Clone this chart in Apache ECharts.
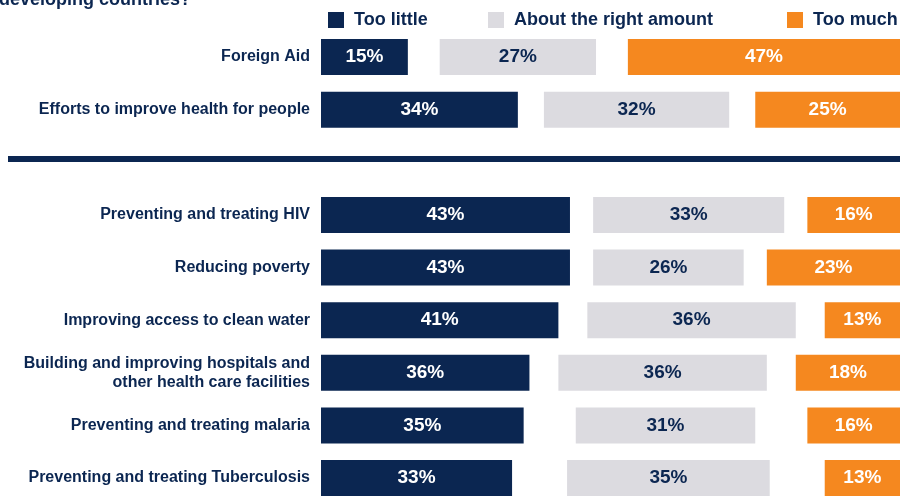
<!DOCTYPE html>
<html>
<head>
<meta charset="utf-8">
<script src="https://cdn.jsdelivr.net/npm/echarts@6/dist/echarts.min.js"></script>
<style>
html,body{margin:0;padding:0;background:#fff;}
#chart{width:900px;height:496px;}
</style>
</head>
<body>
<div id="chart"></div>
<script>
const titleText = 'developing countries?';
const categories = [
  'Foreign Aid',
  'Efforts to improve health for people',
  '',
  'Preventing and treating HIV',
  'Reducing poverty',
  'Improving access to clean water',
  'Building and improving hospitals and\nother health care facilities',
  'Preventing and treating malaria',
  'Preventing and treating Tuberculosis'
];
const seriesNames = ['Too little', 'About the right amount', 'Too much'];
const tooLittle  = [15, 34, null, 43, 43, 41, 36, 35, 33];
const aboutRight = [27, 32, null, 33, 26, 36, 36, 31, 35];
const tooMuch    = [47, 25, null, 16, 23, 13, 18, 16, 13];

const NAVY = '#0B2651';
const GRAY = '#DCDBE0';
const ORANGE = '#F5881F';
const FONT = '"Liberation Sans", Arial, sans-serif';

// remainder (don't know) split into two spacers between the segments
const spacer = tooLittle.map((v, i) => v == null ? null : (100 - v - aboutRight[i] - tooMuch[i]) / 2);

function valueSeries(name, data, color, labelColor) {
  return {
    name: name, type: 'bar', stack: 'all', data: data, barWidth: 36,
    itemStyle: { color: color },
    label: {
      show: true, position: 'inside', formatter: '{c}%',
      color: labelColor, fontSize: 19, fontWeight: 'bold', fontFamily: FONT
    },
    emphasis: { disabled: true }
  };
}
function spacerSeries() {
  return {
    type: 'bar', stack: 'all', data: spacer, barWidth: 36, silent: true,
    itemStyle: { color: 'rgba(0,0,0,0)' }, label: { show: false },
    emphasis: { disabled: true }, tooltip: { show: false }
  };
}
function legendAt(name, left) {
  return {
    data: [name], left: left, top: 11, padding: 0,
    icon: 'rect', itemWidth: 16, itemHeight: 16, selectedMode: false,
    textStyle: { fontSize: 18, fontWeight: 'bold', color: NAVY, fontFamily: FONT, padding: [0, 0, 0, 5] }
  };
}

const chart = echarts.init(document.getElementById('chart'));
chart.setOption({
  animation: false,
  title: {
    text: titleText, left: -1, top: -9, padding: 0,
    textStyle: { fontSize: 18, fontWeight: 'bold', color: NAVY, fontFamily: FONT }
  },
  legend: [
    legendAt(seriesNames[0], 328),
    legendAt(seriesNames[1], 488),
    legendAt(seriesNames[2], 787)
  ],
  grid: { left: 321, right: 0, top: 57, bottom: 18, containLabel: false },
  xAxis: {
    type: 'value', min: 0, max: 100, show: false
  },
  yAxis: {
    type: 'category', data: categories, inverse: true, boundaryGap: false,
    axisLine: { show: false }, axisTick: { show: false }, splitLine: { show: false },
    axisLabel: {
      margin: 11, fontSize: 16, fontWeight: 'bold', color: NAVY, fontFamily: FONT,
      lineHeight: 19, align: 'right'
    }
  },
  graphic: [{
    type: 'rect', shape: { x: 8, y: 156, width: 892, height: 6 },
    style: { fill: NAVY }, silent: true
  }],
  series: [
    valueSeries(seriesNames[0], tooLittle, NAVY, '#FFFFFF'),
    spacerSeries(),
    valueSeries(seriesNames[1], aboutRight, GRAY, NAVY),
    spacerSeries(),
    valueSeries(seriesNames[2], tooMuch, ORANGE, '#FFFFFF')
  ]
});
</script>
</body>
</html>
